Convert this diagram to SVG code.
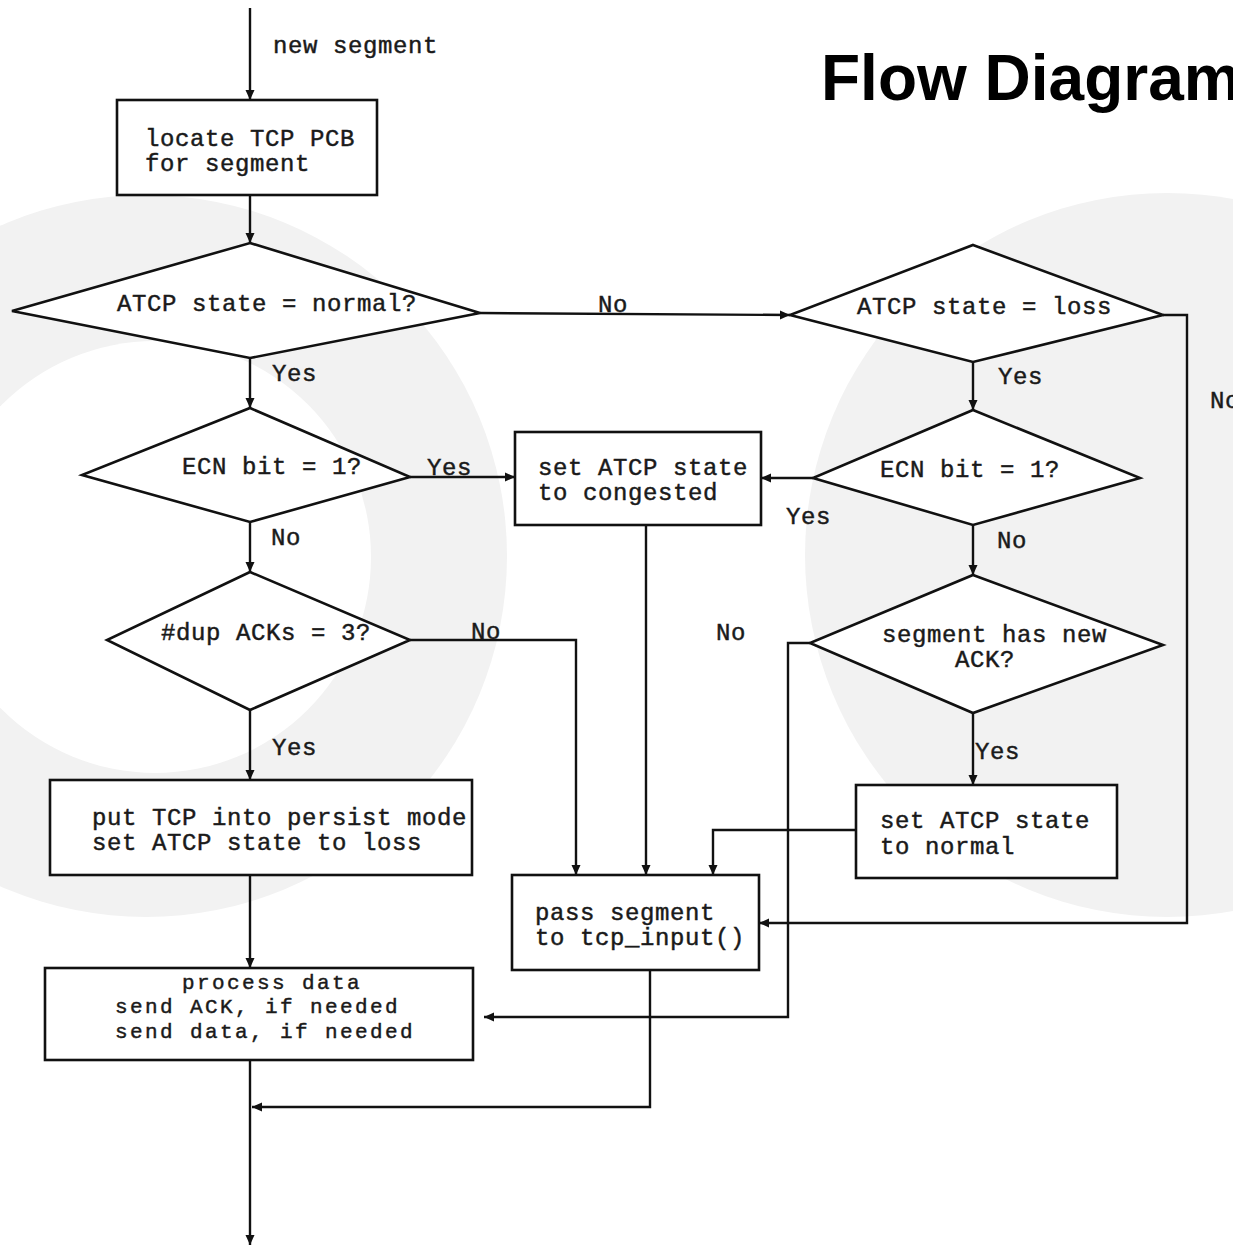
<svg xmlns="http://www.w3.org/2000/svg" width="1233" height="1246" viewBox="0 0 1233 1246">
<defs>
<style>
.bg{fill:#f2f2f2;stroke:none}
.shape{fill:#ffffff;stroke:#111;stroke-width:2.6}
.ln{fill:none;stroke:#111;stroke-width:2.4}
.t{font-family:"Liberation Mono","Courier New",monospace;font-size:24px;letter-spacing:0.6px;fill:#1a1a1a;stroke:#1a1a1a;stroke-width:0.45}
.s{font-size:21px;letter-spacing:2.4px}
.title{font-family:"Liberation Sans",Arial,sans-serif;font-size:64px;font-weight:bold;fill:#000}
</style>
<marker id="arr" markerUnits="userSpaceOnUse" markerWidth="12" markerHeight="10" refX="10" refY="5" orient="auto">
<path d="M0,0.5 L10,5 L0,9.5 z" fill="#111"/>
</marker>
</defs>
<rect width="1233" height="1246" fill="#ffffff"/>
<g id="background">
<circle class="bg" cx="146" cy="556" r="361"/>
<circle cx="155" cy="557" r="216" fill="#ffffff"/>
<circle class="bg" cx="1167" cy="555" r="362"/>
</g>
<text class="title" x="821" y="100">Flow Diagram</text>
<g id="connectors">
<line class="ln" x1="250" y1="8" x2="250" y2="100" marker-end="url(#arr)"/>
<line class="ln" x1="250" y1="195" x2="250" y2="243" marker-end="url(#arr)"/>
<line class="ln" x1="480" y1="313" x2="790" y2="315" marker-end="url(#arr)"/>
<line class="ln" x1="250" y1="358" x2="250" y2="408" marker-end="url(#arr)"/>
<line class="ln" x1="410" y1="477" x2="515" y2="477" marker-end="url(#arr)"/>
<line class="ln" x1="250" y1="522" x2="250" y2="572" marker-end="url(#arr)"/>
<polyline class="ln" points="410,640 576,640 576,875" marker-end="url(#arr)"/>
<line class="ln" x1="250" y1="710" x2="250" y2="780" marker-end="url(#arr)"/>
<line class="ln" x1="250" y1="875" x2="250" y2="968" marker-end="url(#arr)"/>
<line class="ln" x1="250" y1="1060" x2="250" y2="1245" marker-end="url(#arr)"/>
<line class="ln" x1="646" y1="525" x2="646" y2="875" marker-end="url(#arr)"/>
<polyline class="ln" points="650,970 650,1107 252,1107" marker-end="url(#arr)"/>
<line class="ln" x1="973" y1="362" x2="973" y2="410" marker-end="url(#arr)"/>
<polyline class="ln" points="1163,315 1187,315 1187,923 759,923" marker-end="url(#arr)"/>
<line class="ln" x1="813" y1="478" x2="761" y2="478" marker-end="url(#arr)"/>
<line class="ln" x1="973" y1="525" x2="973" y2="575" marker-end="url(#arr)"/>
<polyline class="ln" points="810,643 788,643 788,1017 484,1017" marker-end="url(#arr)"/>
<line class="ln" x1="973" y1="713" x2="973" y2="785" marker-end="url(#arr)"/>
<polyline class="ln" points="856,830 713,830 713,875" marker-end="url(#arr)"/>
</g>
<g id="labels">
<text class="t" x="273" y="53">new segment</text>
<text class="t" x="598" y="312">No</text>
<text class="t" x="272" y="381">Yes</text>
<text class="t" x="427" y="475">Yes</text>
<text class="t" x="271" y="545">No</text>
<text class="t" x="471" y="639">No</text>
<text class="t" x="716" y="640">No</text>
<text class="t" x="272" y="755">Yes</text>
<text class="t" x="998" y="384">Yes</text>
<text class="t" x="786" y="524">Yes</text>
<text class="t" x="997" y="548">No</text>
<text class="t" x="975" y="759">Yes</text>
<text class="t" x="1210" y="408">No</text>
</g>
<g id="locate">
<rect class="shape" x="117" y="100" width="260" height="95"/>
<text class="t" x="145" y="146">locate TCP PCB</text>
<text class="t" x="145" y="171">for segment</text>
</g>
<g id="dec-normal">
<polygon class="shape" points="250,243 480,313 250,358 12,311"/>
<text class="t" x="117" y="311">ATCP state = normal?</text>
</g>
<g id="dec-ecn1">
<polygon class="shape" points="250,408 410,477 250,522 82,475"/>
<text class="t" x="182" y="474">ECN bit = 1?</text>
</g>
<g id="dec-dup">
<polygon class="shape" points="250,572 410,640 250,710 107,640"/>
<text class="t" x="161" y="640">#dup ACKs = 3?</text>
</g>
<g id="persist">
<rect class="shape" x="50" y="780" width="422" height="95"/>
<text class="t" x="92" y="825">put TCP into persist mode</text>
<text class="t" x="92" y="850">set ATCP state to loss</text>
</g>
<g id="process">
<rect class="shape" x="45" y="968" width="428" height="92"/>
<text class="t s" x="182" y="989">process data</text>
<text class="t s" x="115" y="1013">send ACK, if needed</text>
<text class="t s" x="115" y="1038">send data, if needed</text>
</g>
<g id="congested">
<rect class="shape" x="515" y="432" width="246" height="93"/>
<text class="t" x="538" y="475">set ATCP state</text>
<text class="t" x="538" y="500">to congested</text>
</g>
<g id="pass">
<rect class="shape" x="512" y="875" width="247" height="95"/>
<text class="t" x="535" y="920">pass segment</text>
<text class="t" x="535" y="945">to tcp_input()</text>
</g>
<g id="dec-loss">
<polygon class="shape" points="973,245 1163,315 973,362 790,315"/>
<text class="t" x="857" y="314">ATCP state = loss</text>
</g>
<g id="dec-ecn2">
<polygon class="shape" points="973,410 1140,478 973,525 813,478"/>
<text class="t" x="880" y="477">ECN bit = 1?</text>
</g>
<g id="dec-newack">
<polygon class="shape" points="973,575 1163,645 973,713 810,643"/>
<text class="t" x="882" y="642">segment has new</text>
<text class="t" x="955" y="667">ACK?</text>
</g>
<g id="normal">
<rect class="shape" x="856" y="785" width="261" height="93"/>
<text class="t" x="880" y="828">set ATCP state</text>
<text class="t" x="880" y="854">to normal</text>
</g>
</svg>
